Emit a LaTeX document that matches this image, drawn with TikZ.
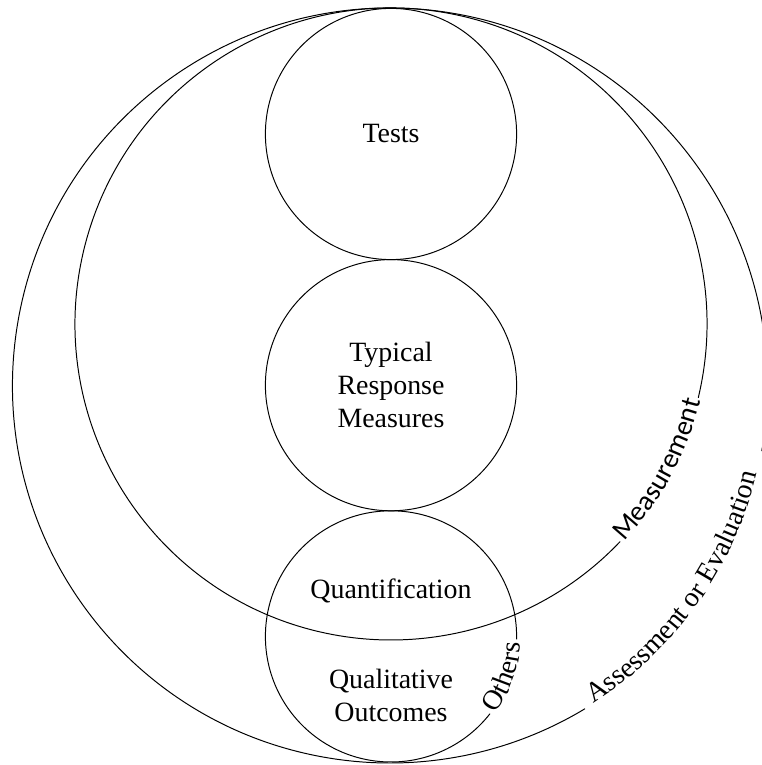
\documentclass[tikz,border=0pt]{standalone}
\usepackage{fontspec}
\setmainfont{Liberation Serif}
\newfontfamily\arcserif{Liberation Serif}
\newfontfamily\measfont{Carlito}
\usetikzlibrary{positioning,decorations.text}

\newcommand{\diagfont}{\fontsize{19.85}{23.5}\selectfont}

\tikzset{
  bubble/.style={circle, draw, minimum size=6.28cm, inner sep=0pt, outer sep=0pt, align=center},
  caption/.style={align=center, inner sep=0pt},
  serifarc/.style={execute at begin scope={\arcserif\diagfont}},
  sansarc/.style={execute at begin scope={\measfont\diagfont}},
}

\begin{document}
\begin{tikzpicture}[line width=0.7pt, font=\diagfont]
  \useasboundingbox (0,0) rectangle (19.05,19.125);

  % Define nodes

  % Tests, Typical response measures and the lowest circle
  \node[bubble] (tests) at (9.775,15.775) {Tests}; %
  \node[bubble, below=0pt of tests] (typical) {Typical\\Response\\Measures}; %
  \node[bubble, below=0pt of typical, draw=none] (quant) {}; %

  % texts of the lowest circle
  \node[caption] (quanttxt) at ([yshift=1.125cm]quant.center) {Quantification}; %
  \node[caption] (qualtxt) at ([yshift=-1.475cm]quant.center) {Qualitative\\Outcomes}; %

  % centres of the two big circles
  \coordinate (meas-c) at (9.775,11.025); %
  \coordinate (eval-c) at (9.75,9.4875); %

  % Others: the lowest circle, open where its label sits
  \draw ([shift={(-1.4:3.14)}]quant.center) arc[start angle=-1.4, end angle=322, radius=3.14]; %
  \begin{scope}[serifarc]
    \path[decorate, decoration={text along path, text align=center, raise=-3pt,
      text={Others}}]
      ([shift={(-38:3.14)}]quant.center) arc[start angle=-38, end angle=-1.4, radius=3.14]; %
  \end{scope}

  % Assessment or Evaluation circle
  \draw ([shift={(-10:9.4375)}]eval-c) arc[start angle=-10, end angle=301.1, radius=9.4375]; %
  \begin{scope}[serifarc]
    \path[decorate, decoration={text along path, text align=center, raise=0pt,
      text={Assessment or Evaluation}}]
      ([shift={(-58.9:9.4375)}]eval-c) arc[start angle=-58.9, end angle=-12, radius=9.4375]; %
  \end{scope}

  % Measurement circle
  \draw ([shift={(-13.5:7.9)}]meas-c) arc[start angle=-13.5, end angle=316.5, radius=7.9]; %
  \begin{scope}[sansarc]
    \path[decorate, decoration={text along path, text align=center, raise=-2pt,
      text={Measurement}}]
      ([shift={(-43.5:7.9)}]meas-c) arc[start angle=-43.5, end angle=-13.5, radius=7.9]; %
  \end{scope}

\end{tikzpicture}
\end{document}
